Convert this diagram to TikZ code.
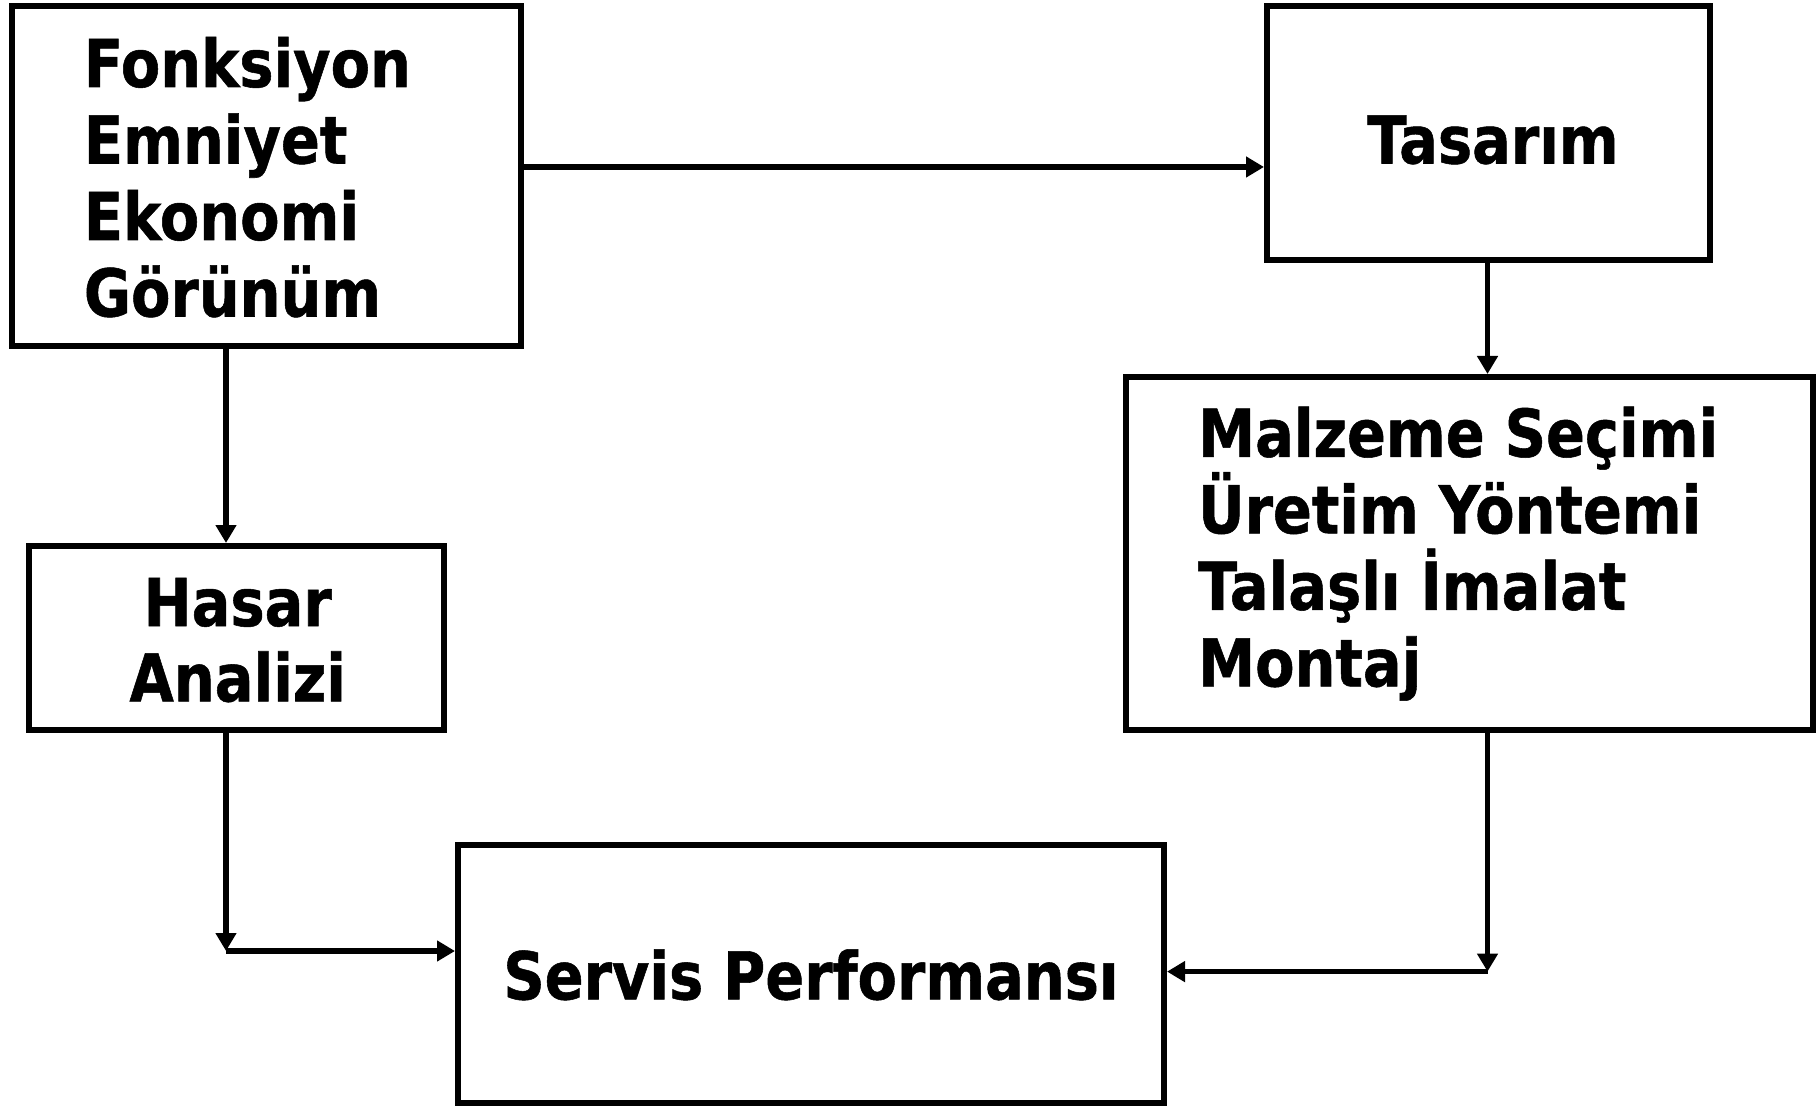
\documentclass[tikz,border=0pt]{standalone}
\usepackage{fontspec}
\setmainfont{DejaVu Sans}[FakeStretch=0.87,FakeBold=0.8]
\usetikzlibrary{arrows.meta}
\begin{document}
\begin{tikzpicture}[x=0.5pt,y=-0.5pt,
  box/.style={draw=black,line width=3pt,fill=white,inner sep=0pt},
  lbl/.style={inner sep=0pt,font=\fontsize{33pt}{38pt}\selectfont\bfseries},
  arr/.style={line width=2.7pt,-{Triangle[width=10pt,length=9pt]}},
  ln/.style={line width=2.7pt}]
\useasboundingbox (0,0) rectangle (1818,1106);
% boxes
\node[box,minimum width=509pt*0.5,minimum height=340pt*0.5] (A) at (266,175.6) {};
\node[box,minimum width=443pt*0.5,minimum height=254pt*0.5] (B) at (1488.5,132.7) {};
\node[box,minimum width=687pt*0.5,minimum height=353pt*0.5] (C) at (1469.5,553.5) {};
\node[box,minimum width=415pt*0.5,minimum height=184pt*0.5] (D) at (236.5,638) {};
\node[box,minimum width=706pt*0.5,minimum height=258pt*0.5] (E) at (811,974) {};
% texts
\node[lbl,anchor=base west] (a1) at (83.5,87) {Fonksiyon};
\node[lbl,anchor=base west] (a2) at (83.5,163.5) {Emniyet};
\node[lbl,anchor=base west] (a3) at (83.5,240) {Ekonomi};
\node[lbl,anchor=base west] (a4) at (83.5,316.5) {Görünüm};
\node[lbl,anchor=base] (b1) at (1493,163.5) {Tasarım};
\node[lbl,anchor=base west] (c1t) at (1197.6,456.8) {Malzeme Seçimi};
\node[lbl,anchor=base west] (c2t) at (1197.6,533.3) {Üretim Yöntemi};
\node[lbl,anchor=base west] (c3t) at (1197.6,609.8) {Talaşlı İmalat};
\node[lbl,anchor=base west] (c4t) at (1197.6,686.4) {Montaj};
\node[lbl,anchor=base] (d1) at (237.7,626) {Hasar};
\node[lbl,anchor=base] (d2) at (237.7,701.4) {Analizi};
\node[lbl,anchor=base] (e1) at (811,999.4) {Servis Performansı};
% connectors
\coordinate (k1) at (226,951);
\coordinate (k2) at (1487.5,971.6);
\draw[arr] (A.east |- 0,167) -- (B.west |- 0,167);
\draw[arr] (B.south -| 1487.5,0) -- (C.north -| 1487.5,0);
\draw[arr] (A.south -| 226,0) -- (D.north -| 226,0);
\draw[arr] (D.south -| k1) -- (k1);
\draw[arr] (k1) -- (E.west |- k1);
\draw[arr] (C.south -| k2) -- (k2);
\draw[arr] (k2) -- (E.east |- k2);
\end{tikzpicture}
\end{document}
